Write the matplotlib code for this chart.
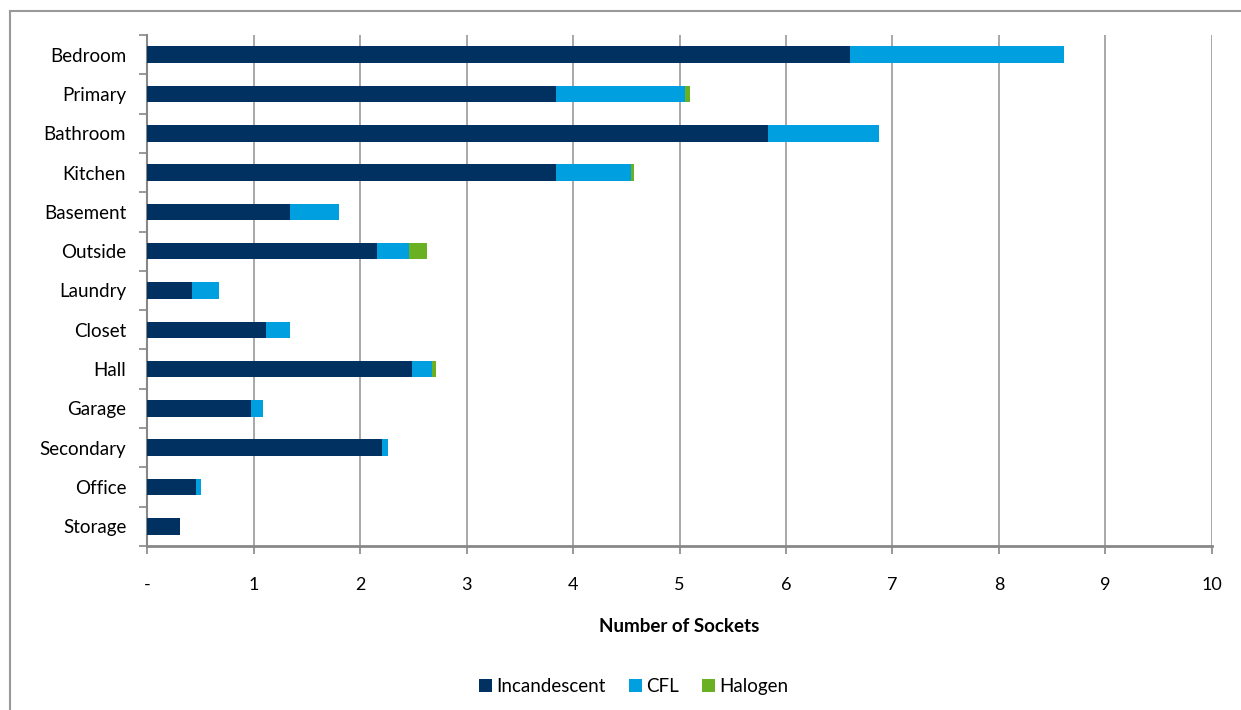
import matplotlib
matplotlib.use("Agg")
import matplotlib.pyplot as plt
from matplotlib.lines import Line2D

# Sockets per room type, split by lamp technology
rooms = ["Bedroom", "Primary", "Bathroom", "Kitchen", "Basement", "Outside",
         "Laundry", "Closet", "Hall", "Garage", "Secondary", "Office", "Storage"]
incandescent = [6.60, 3.84, 5.83, 3.84, 1.34, 2.16, 0.42, 1.12, 2.49, 0.98, 2.21, 0.46, 0.31]
cfl = [2.01, 1.21, 1.04, 0.70, 0.46, 0.30, 0.26, 0.22, 0.19, 0.11, 0.05, 0.05, 0.00]
halogen = [0.00, 0.05, 0.00, 0.03, 0.00, 0.17, 0.00, 0.00, 0.03, 0.00, 0.00, 0.00, 0.00]
xticks = list(range(0, 11))
xtick_labels = ["-"] + [str(v) for v in xticks[1:]]

plt.rcParams["font.family"] = ["Lato", "DejaVu Sans"]

fig = plt.figure(figsize=(12.41, 7.10), dpi=100)
ax = fig.add_axes([0.1185, 0.231, 0.8581, 0.7197])

y = list(range(len(rooms)))
h = 0.42
c_inc, c_cfl, c_hal = "#003160", "#009FE0", "#6AB023"

ax.barh(y, incandescent, height=h, color=c_inc, label="Incandescent", zorder=3)
left2 = incandescent
ax.barh(y, cfl, height=h, left=left2, color=c_cfl, label="CFL", zorder=3)
left3 = [a + b for a, b in zip(incandescent, cfl)]
ax.barh(y, halogen, height=h, left=left3, color=c_hal, label="Halogen", zorder=3)

ax.set_ylim(len(rooms) - 0.5, -0.5)
ax.set_xlim(0, 10)
ax.set_yticks(y)
ax.set_yticklabels(rooms, fontsize=13.5)
ax.set_yticks([i - 0.5 for i in range(len(rooms) + 1)], minor=True)
ax.tick_params(axis="y", which="major", length=0, pad=15)
ax.tick_params(axis="y", which="minor", length=6, color="#888888", width=1.2)

ax.set_xticks(xticks)
ax.set_xticklabels(xtick_labels, fontsize=13)
ax.tick_params(axis="x", length=6, color="#888888", width=1.2, pad=16)
ax.xaxis.grid(True, color="#999999", linewidth=1.2, zorder=0)

for s in ["top", "right"]:
    ax.spines[s].set_visible(False)
for s in ["left", "bottom"]:
    ax.spines[s].set_color("#888888")
ax.spines["bottom"].set_linewidth(2)
ax.spines["left"].set_linewidth(1.5)

ax.set_xlabel("Number of Sockets", fontsize=13.5, fontweight="bold", labelpad=18)

ax.legend(loc="upper center", bbox_to_anchor=(0.457, -0.225), ncol=3, frameon=False,
          fontsize=13.5, handlelength=0.7, handleheight=0.7, handletextpad=0.25,
          columnspacing=1.2)

# Outer chart border
fig.add_artist(Line2D([10 / 1241, 10 / 1241], [0, 1 - 11 / 710],
                      transform=fig.transFigure, color="#999999", linewidth=1.5))
fig.add_artist(Line2D([10 / 1241, 1], [1 - 11 / 710, 1 - 11 / 710],
                      transform=fig.transFigure, color="#999999", linewidth=1.5))

fig.savefig("out.png", dpi=100)
